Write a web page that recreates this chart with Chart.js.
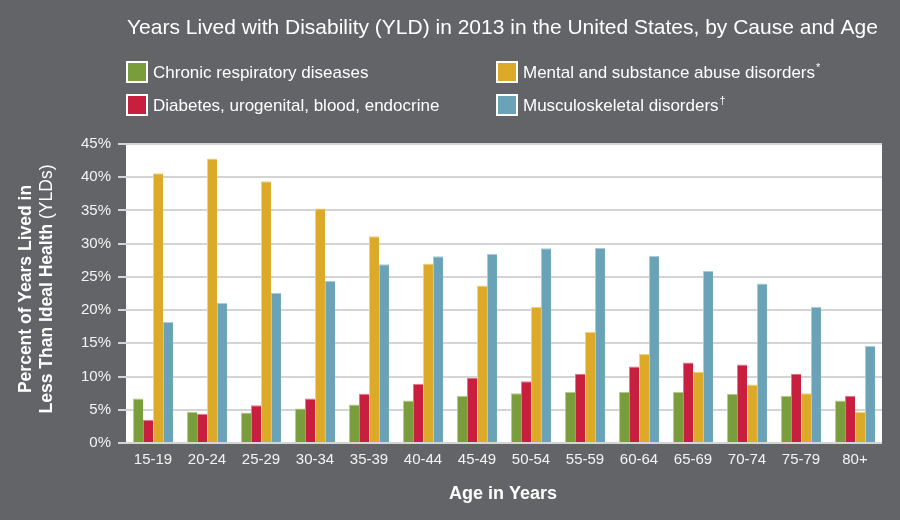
<!DOCTYPE html>
<html>
<head>
<meta charset="utf-8">
<title>YLD 2013 by Cause and Age</title>
<script src="https://cdn.jsdelivr.net/npm/chart.js@4.4.0/dist/chart.umd.min.js"></script>
<style>
    html, body { margin: 0; padding: 0; background: #636468; }
    #wrap { width: 900px; height: 520px; }
</style>
</head>
<body>
<div id="wrap"><canvas id="yldChart" width="900" height="520"></canvas></div>
<script>
const FONT = "'Liberation Sans', Arial, Helvetica, sans-serif";

const ageGroups = ['15-19', '20-24', '25-29', '30-34', '35-39', '40-44', '45-49',
    '50-54', '55-59', '60-64', '65-69', '70-74', '75-79', '80+'];

const chronicResp = [6.7, 4.7, 4.6, 5.2, 5.8, 6.4, 7.1, 7.5, 7.7, 7.7, 7.7, 7.4, 7.1, 6.4];
const diabetesEtc = [3.5, 4.4, 5.7, 6.7, 7.4, 8.9, 9.8, 9.3, 10.4, 11.5, 12.1, 11.8, 10.4, 7.1];
const mentalAbuse = [40.6, 42.8, 39.4, 35.3, 31.1, 27.0, 23.7, 20.5, 16.7, 13.4, 10.7, 8.8, 7.5, 4.7];
const musculoSkel = [18.2, 21.1, 22.6, 24.4, 26.9, 28.1, 28.5, 29.3, 29.4, 28.2, 25.9, 24.0, 20.5, 14.6];

const seriesNames = ['Chronic respiratory diseases', 'Diabetes, urogenital, blood, endocrine',
    'Mental and substance abuse disorders*', 'Musculoskeletal disorders\u2020'];
const yTicks = [0, 5, 10, 15, 20, 25, 30, 35, 40, 45];

const colors = ['#7a9d3c', '#c81f3f', '#dcaa28', '#6aa3b8'];
const edgeColors = ['#b5c98f', '#e0788b', '#efd27f', '#aacbd7'];

function mkSet(i, data) {
    return {
        label: seriesNames[i],
        data: data,
        backgroundColor: colors[i],
        borderColor: edgeColors[i],
        borderWidth: { top: 1, left: 1, right: 0, bottom: 0 },
        borderSkipped: 'bottom',
        categoryPercentage: 0.74,
        barPercentage: 1.0
    };
}

/* background, white plot area, title, legend and axis titles */
const decor = {
    id: 'decor',
    beforeDraw(chart) {
        const c = chart.ctx, a = chart.chartArea;
        c.save();
        c.fillStyle = '#636468';
        c.fillRect(0, 0, chart.width, chart.height);
        c.fillStyle = '#ffffff';
        c.fillRect(a.left, a.top - 1, a.right - a.left, a.bottom - a.top + 1);
        c.restore();
    },
    afterDraw(chart) {
        const c = chart.ctx;
        c.save();
        c.fillStyle = '#ffffff';
        c.textBaseline = 'middle';

        // title
        c.font = '21px ' + FONT;
        c.textAlign = 'left';
        c.fillText('Years Lived with Disability (YLD) in 2013 in the United States, by Cause and Age', 127, 28);

        // legend 2x2, footnote marks drawn small and raised
        const colX = [126, 496], rowY = [61, 94];
        chart.data.datasets.forEach(function (ds, i) {
            const x = colX[Math.floor(i / 2)], y = rowY[i % 2];
            c.fillStyle = '#ffffff';
            c.fillRect(x, y, 22, 22);
            c.fillStyle = ds.backgroundColor;
            c.fillRect(x + 2, y + 2, 18, 18);
            c.fillStyle = '#ffffff';
            let txt = ds.label, mark = '';
            const last = txt.charAt(txt.length - 1);
            if (last === '*' || last === '\u2020') {
                mark = last;
                txt = txt.slice(0, -1);
            }
            c.font = '17px ' + FONT;
            c.fillText(txt, x + 27, y + 12);
            if (mark) {
                const w = c.measureText(txt).width;
                c.font = '11px ' + FONT;
                c.fillText(mark, x + 28 + w, y + 7);
            }
        });

        // x title
        c.font = 'bold 18px ' + FONT;
        c.textAlign = 'center';
        c.fillText('Age in Years', 503, 494);

        // y title, two lines rotated
        c.translate(0, 289);
        c.rotate(-Math.PI / 2);
        c.font = 'bold 17.5px ' + FONT;
        c.fillText('Percent of Years Lived in', 0, 26);
        const p1 = 'Less Than Ideal Health', p2 = ' (YLDs)';
        const w1 = c.measureText(p1).width;
        c.font = '17.5px ' + FONT;
        const w2 = c.measureText(p2).width;
        c.textAlign = 'left';
        c.font = 'bold 17.5px ' + FONT;
        c.fillText(p1, -(w1 + w2) / 2, 47);
        c.font = '17.5px ' + FONT;
        c.fillText(p2, -(w1 + w2) / 2 + w1, 47);
        c.restore();
    }
};

var ctx = document.getElementById('yldChart').getContext('2d');
var yldChart = new Chart(ctx, {
    type: 'bar',
    data: {
        labels: ageGroups,
        datasets: [
            mkSet(0, chronicResp),
            mkSet(1, diabetesEtc),
            mkSet(2, mentalAbuse),
            mkSet(3, musculoSkel)
        ]
    },
    options: {
        responsive: false,
        animation: false,
        layout: { padding: { top: 144, right: 18, left: 0, bottom: 0 } },
        plugins: {
            legend: { display: false },
            title: { display: false },
            tooltip: { enabled: false }
        },
        scales: {
            x: {
                grid: { display: false, drawTicks: false },
                border: { display: false },
                ticks: {
                    color: '#f4f4f4',
                    font: { family: FONT, size: 15 },
                    padding: 8,
                    maxRotation: 0,
                    autoSkip: false
                },
                afterFit(scale) { scale.height = 77; }
            },
            y: {
                min: 0,
                max: 45,
                afterBuildTicks(scale) {
                    scale.ticks = yTicks.map(function (v) { return { value: v }; });
                },
                grid: {
                    color: '#d4d4d4',
                    lineWidth: 2,
                    tickLength: 8,
                    drawTicks: true
                },
                border: { display: false },
                ticks: {
                    color: '#f4f4f4',
                    font: { family: FONT, size: 15 },
                    padding: 7,
                    callback: function (v) { return v + '%'; }
                },
                afterFit(scale) { scale.width = 126; }
            }
        }
    },
    plugins: [decor]
});
</script>
</body>
</html>
